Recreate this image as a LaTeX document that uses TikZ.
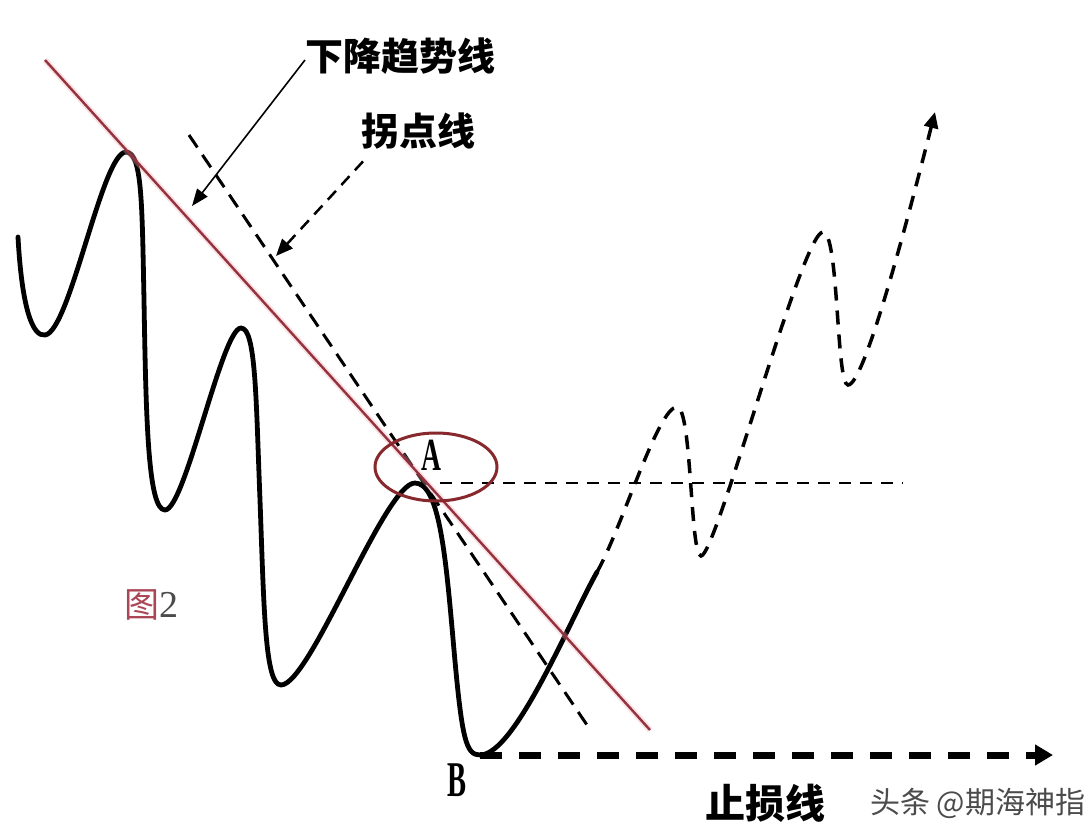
\documentclass[tikz,border=0pt]{standalone}
\usepackage{fontspec}
\setmainfont{Liberation Serif}
\newfontfamily\cjk{Noto Sans CJK SC}
\usetikzlibrary{arrows.meta,shapes.geometric}
\definecolor{trendred}{RGB}{150,50,62}
\definecolor{glowpink}{RGB}{240,170,180}
\definecolor{ellred}{RGB}{135,40,45}
\definecolor{figred}{RGB}{170,70,85}
\definecolor{wmgray}{RGB}{75,75,75}
\tikzset{
  lab/.style={font=\cjk\bfseries\fontsize{38}{40}\selectfont, inner sep=0pt},
  letter/.style={font=\bfseries\fontsize{46}{48}\selectfont, inner sep=0pt, xscale=0.6},
  price/.style={line width=4.8pt, line cap=round, line join=round},
  future/.style={line width=3.5pt, dash pattern=on 14pt off 10pt, line cap=butt},
  pivotline/.style={line width=3pt, dash pattern=on 15pt off 9pt},
  levelline/.style={line width=2.5pt, dash pattern=on 12pt off 9pt},
  stopline/.style={line width=7pt, dash pattern=on 22pt off 17pt, -{Triangle[length=18pt,width=20pt]}},
  ptr/.style={line width=1.6pt, -{Triangle[length=17pt,width=13pt]}},
  dptr/.style={line width=2.5pt, dash pattern=on 12pt off 8pt, -{Triangle[length=17pt,width=14pt]}},
}
\begin{document}
\begin{tikzpicture}[x=1pt,y=-1pt]
\fill[white] (0,0) rectangle (1090,837);
\useasboundingbox (0,0) rectangle (1090,837);

% key points
\coordinate (start) at (18,237);
\coordinate (Apeak) at (415,483);
\coordinate (Bpt) at (480,755);
\coordinate (solidEnd) at (597,572);
\coordinate (upTip) at (935,112);

% price curve (solid)
\draw[price] (start)
  .. controls (22,310) and (33,337) .. (45,335)
  .. controls (70,332) and (102,152) .. (126,152)
  .. controls (142,153) and (142,200) .. (144,300)
  .. controls (146,420) and (148,510) .. (165,510)
  .. controls (185,510) and (222,328) .. (241,328)
  .. controls (256,328) and (256,400) .. (260,500)
  .. controls (264,610) and (265,685) .. (281,685)
  .. controls (310,685) and (385,483) .. (Apeak)
  .. controls (440,483) and (446,560) .. (454,650)
  .. controls (462,740) and (466,755) .. (Bpt)
  .. controls (515,755) and (570,620) .. (solidEnd);

% future dashed curve
\draw[future, -{Triangle[length=16pt,width=14pt]}] (solidEnd)
  .. controls (622,528) and (658,407) .. (677,407)
  .. controls (692,407) and (690,556) .. (701,556)
  .. controls (716,556) and (802,232) .. (823,232)
  .. controls (839,232) and (836,385) .. (848,385)
  .. controls (864,385) and (905,230) .. (upTip);

% horizontal level through A
\coordinate (levStart) at (440,483);
\coordinate (levEnd) at (903,483);
\draw[levelline] (levStart) -- (levEnd);

% pivot dashed line
\coordinate (pivTop) at (189,135);
\coordinate (pivBot) at (587,725);
\draw[pivotline] (pivTop) -- (pivBot);

% descending trend line
\coordinate (trTop) at (45,60);
\coordinate (trBot) at (650,730);
\draw[glowpink, line width=6pt, opacity=0.35] (trTop) -- (trBot);
\draw[trendred, line width=2.4pt] (trTop) -- (trBot);

% ellipse around A
\node[ellipse, draw=ellred, line width=3pt, minimum width=122pt, minimum height=68pt, inner sep=0pt] (circA) at (436,467) {};
\node[letter] (labA) at (431,455) {A};
\node[letter, font=\bfseries\fontsize{50}{52}\selectfont, xscale=0.95] (labB) at (457,780) {B};

% stop-loss line
\coordinate (stopEnd) at (1053,755);
\draw[stopline] (Bpt) -- (stopEnd);

% labels
\node[lab, anchor=west] (trend) at (305,56) {下降趋势线};
\node[lab, anchor=west] (pivot) at (361,131) {拐点线};
\node[lab, font=\cjk\bfseries\fontsize{40}{42}\selectfont, anchor=west] (stop) at (705,803) {止损线};
\node[inner sep=0pt, anchor=west, text=wmgray, font=\cjk\fontsize{30}{32}\selectfont] (wm) at (870,803) {头条 @期海神指};
\node[inner sep=0pt, anchor=west] (fig) at (124,605) {\textcolor{figred}{\cjk\fontsize{35}{37}\selectfont 图}{\color{wmgray}\fontsize{38}{40}\selectfont 2}};

% pointers
\coordinate (trendTip) at (192,206);
\coordinate (pivotTip) at (276,256);
\draw[ptr] (trend.west) ++(0,4) -- (trendTip);
\draw[dptr] (pivot.south west) ++(2,12) -- (pivotTip);
\end{tikzpicture}
\end{document}
